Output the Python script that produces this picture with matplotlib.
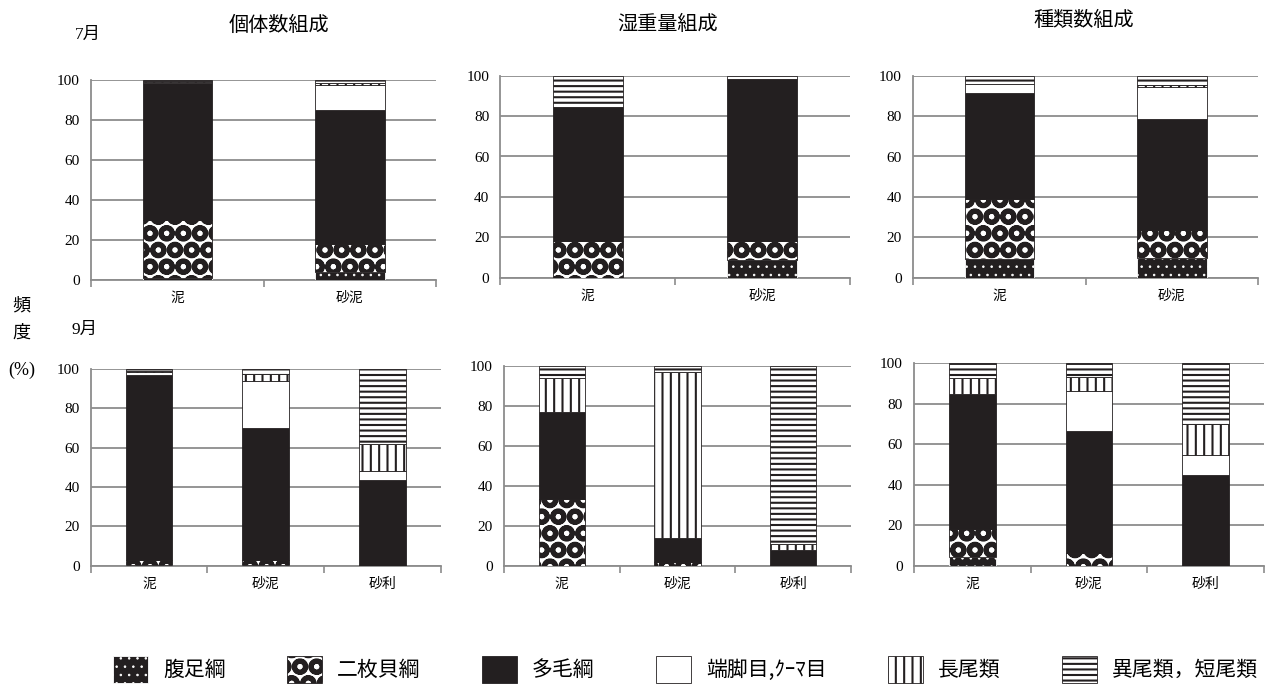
import matplotlib
matplotlib.use('Agg')
import matplotlib.pyplot as plt
from matplotlib.patches import Patch
import numpy as np

plt.rcParams['font.family'] = ['Noto Sans CJK JP', 'DejaVu Sans']
plt.rcParams['hatch.linewidth'] = 1.5

# ---------------- data ----------------
groups = ['腹足綱', '二枚貝綱', '多毛綱', '端脚目,ｸｰﾏ目', '長尾類', '異尾類，短尾類']
sites_jul = ['泥', '砂泥']
sites_sep = ['泥', '砂泥', '砂利']
titles = ['個体数組成', '湿重量組成', '種類数組成']

# rows = groups (order as above), columns = sites  (percent)
jul_count = [[1.0, 4.0], [29.0, 14.0], [68.5, 67.0], [0.5, 12.5], [0.3, 1.0], [0.7, 1.5]]
jul_weight = [[0.0, 9.0], [18.0, 9.3], [66.3, 80.0], [0.0, 0.2], [0.0, 0.0], [15.7, 1.5]]
jul_species = [[9.1, 9.6], [29.7, 14.0], [52.5, 55.0], [4.6, 15.7], [0.0, 1.0], [4.1, 4.7]]

sep_count = [[0.5, 0.5, 0.0], [2.5, 2.5, 0.0], [94.0, 66.8, 43.4], [1.5, 24.1, 4.9],
             [0.5, 3.6, 13.4], [1.0, 2.5, 38.3]]
sep_weight = [[0.0, 0.0, 0.0], [33.3, 2.0, 0.0], [43.4, 11.7, 7.8], [0.0, 0.0, 0.0],
              [17.3, 83.0, 3.0], [6.0, 3.3, 89.2]]
sep_species = [[4.4, 0.0, 0.0], [13.6, 6.1, 0.0], [66.8, 60.3, 45.0], [0.0, 20.1, 9.7],
               [7.8, 6.6, 15.4], [7.4, 6.9, 29.9]]

yticks = [0, 20, 40, 60, 80, 100]

# ---------------- style ----------------
BLACK = '#231f20'
GRID = '#8c8c8c'
styles = [
    dict(fc=BLACK, ec='white', hatch='..', hlw=0.6),
    dict(fc='white', ec=BLACK, hatch='O', hlw=3.5),
    dict(fc=BLACK, ec=BLACK, hatch=None, hlw=None),
    dict(fc='white', ec=BLACK, hatch=None, hlw=None),
    dict(fc='white', ec=BLACK, hatch='||', hlw=1.5),
    dict(fc='white', ec=BLACK, hatch='---', hlw=1.5),
]

W, H = 1271, 688
fig = plt.figure(figsize=(W / 100, H / 100), dpi=100)


def add_ax(l, r, t, b):
    return fig.add_axes([l / W, 1 - b / H, (r - l) / W, (b - t) / H])


def set_hlw(patch, lw):
    if lw is None:
        return
    try:
        patch.set_hatch_linewidth(lw)
    except AttributeError:
        pass


def draw_panel(ax, sites, data):
    n = len(sites)
    x = np.arange(n) + 0.5
    bottom = np.zeros(n)
    for vals, st in zip(data, styles):
        vals = np.asarray(vals, dtype=float)
        m = vals > 0
        if m.any():
            bars = ax.bar(x[m], vals[m], width=0.4, bottom=bottom[m], color=st['fc'],
                          edgecolor=st['ec'], hatch=st['hatch'], linewidth=0.6, zorder=3)
            for b in bars:
                set_hlw(b, st['hlw'])
        bottom += vals
    ax.set_xlim(0, n)
    ax.set_ylim(0, 100)
    ax.set_yticks(yticks)
    ax.yaxis.grid(True, color=GRID, lw=1.3)
    ax.set_axisbelow(True)
    for s in ['top', 'right']:
        ax.spines[s].set_visible(False)
    for s in ['left', 'bottom']:
        ax.spines[s].set_color(GRID)
        ax.spines[s].set_linewidth(1.3)
    ax.set_xticks(np.arange(n + 1))
    ax.set_xticklabels([])
    ax.tick_params(axis='x', which='major', length=5, width=1.2, color=GRID, direction='out')
    ax.set_xticks(x, minor=True)
    ax.set_xticklabels(sites, minor=True, fontsize=10)
    ax.tick_params(axis='x', which='minor', length=0, pad=8)
    ax.tick_params(axis='y', length=0, pad=8, labelsize=11)
    for lab in ax.get_yticklabels():
        lab.set_fontfamily('Liberation Serif')


boxes_top = [(90.8, 436.4, 80, 280), (500.4, 849.5, 75.7, 277.7), (912.8, 1258.4, 75.7, 277.7)]
boxes_bot = [(90.7, 440.6, 369, 565.7), (503.8, 851, 365.7, 565.7), (914, 1264, 363.3, 565.7)]

for box, data in zip(boxes_top, [jul_count, jul_weight, jul_species]):
    draw_panel(add_ax(*box), sites_jul, data)
for box, data in zip(boxes_bot, [sep_count, sep_weight, sep_species]):
    draw_panel(add_ax(*box), sites_sep, data)

# ---------------- texts ----------------
def ftext(px, py, s, **kw):
    fig.text(px / W, 1 - py / H, s, ha='center', va='center', **kw)

ftext(278.5, 25, titles[0], fontsize=14.5)
ftext(667.5, 25, titles[1], fontsize=14.5)
ftext(1084, 20, titles[2], fontsize=14.5)
ftext(87.5, 35, '7月', fontsize=12.5, family=['Liberation Serif', 'Noto Sans CJK JP'])
ftext(85, 330, '9月', fontsize=12.5, family=['Liberation Serif', 'Noto Sans CJK JP'])
ftext(21, 305, '頻', fontsize=13)
ftext(21, 333, '度', fontsize=13)
ftext(22, 370, '(%)', fontsize=13, family='Liberation Serif')

# ---------------- legend ----------------
handles = [Patch(facecolor=st['fc'], edgecolor=st['ec'], hatch=st['hatch'], linewidth=0.6)
           for st in styles]
leg = fig.legend(handles, groups, ncol=6, loc='center left',
                 bbox_to_anchor=(113 / W, 18.5 / H), frameon=False, fontsize=15,
                 handlelength=1.68, handleheight=1.68, handletextpad=0.72,
                 columnspacing=2.95, borderpad=0, borderaxespad=0)
for p, st in zip(leg.get_patches(), styles):
    set_hlw(p, st['hlw'])

fig.savefig('out.png', dpi=100)
